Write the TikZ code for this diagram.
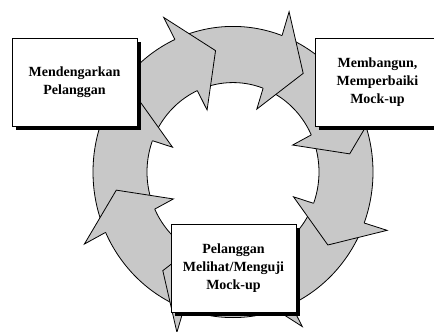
\documentclass[tikz,border=0pt]{standalone}
\usepackage{fontspec}
\setmainfont{Liberation Serif}
\usepackage{xcolor}
\usepackage{tikz}
\usetikzlibrary{shadows}
\definecolor{CycleGray}{RGB}{200, 200, 200}

\begin{document}
\begin{tikzpicture}[x=1pt, y=-1pt,
    stagebox/.style={draw=black, line width=0.8pt, fill=white,
      minimum width=125pt, minimum height=88pt, inner sep=2pt, align=center,
      font=\fontsize{14}{18}\selectfont\bfseries,
      drop shadow={shadow xshift=4pt, shadow yshift=-4pt, fill=black, opacity=1}},
    cycleline/.style={draw=black, line width=0.8pt, line join=miter}]
  \useasboundingbox (0,0) rectangle (434,332);
  \clip (0,0) rectangle (434,332);

  % ring of arrows
  \begin{scope}[shift={(233,172)}, yscale=-1.04]
    \path[cycleline, fill=CycleGray, even odd rule] (0,0) circle (140) (0,0) circle (86);
    \foreach \t in {98.5, 53.5, 8.5, -36.5, -81.5, -126.5, -171.5, 143.5} {
      \fill[CycleGray] ({\t+16}:140) -- ({\t+16.5}:164) -- (\t:118)
        -- ({\t+15}:65) -- ({\t+16}:86) -- cycle;
      \draw[cycleline] ({\t+16}:140) -- ({\t+16.5}:164) -- (\t:118)
        -- ({\t+15}:65) -- ({\t+16}:86);
    }
  \end{scope}

  % stages
  \node[stagebox] (dengar) at (74.5,82) {Mendengarkan\\Pelanggan};
  \node[stagebox] (bangun) at (377.5,82) {Membangun,\\Memperbaiki\\Mock-up};
  \node[stagebox] (uji) at (233.5,268) {Pelanggan\\Melihat/Menguji\\Mock-up};
\end{tikzpicture}
\end{document}
